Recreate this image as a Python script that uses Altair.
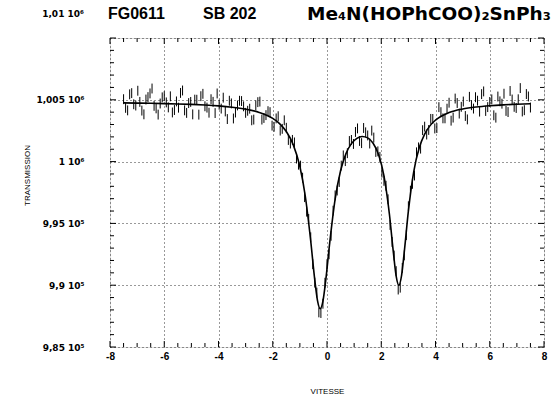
import altair as alt
import pandas as pd

# ---- data (channels split into two interleaved halves) ----
velocity_even = [-7.5, -7.35, -7.2, -7.05, -6.9, -6.75, -6.6, -6.45, -6.3, -6.15,
                 -6.0, -5.85, -5.7, -5.55, -5.4, -5.25, -5.1, -4.95, -4.8, -4.65,
                 -4.5, -4.35, -4.2, -4.05, -3.9, -3.75, -3.6, -3.45, -3.3, -3.15,
                 -3.0, -2.85, -2.7, -2.55, -2.4, -2.25, -2.1, -1.95, -1.8, -1.65,
                 -1.5, -1.35, -1.2, -1.05, -0.9, -0.75, -0.6, -0.45, -0.3, -0.15,
                 0.0, 0.15, 0.3, 0.45, 0.6, 0.75, 0.9, 1.05, 1.2, 1.35,
                 1.5, 1.65, 1.8, 1.95, 2.1, 2.25, 2.4, 2.55, 2.7, 2.85,
                 3.0, 3.15, 3.3, 3.45, 3.6, 3.75, 3.9, 4.05, 4.2, 4.35,
                 4.5, 4.65, 4.8, 4.95, 5.1, 5.25, 5.4, 5.55, 5.7, 5.85,
                 6.0, 6.15, 6.3, 6.45, 6.6, 6.75, 6.9, 7.05, 7.2, 7.35,
                 7.5]
transmission_even = [1005050, 1004145, 1005540, 1004535, 1004830, 1003824, 1005219, 1005913, 1004306, 1004700,
                     1005293, 1004385, 1003976, 1004867, 1005557, 1004146, 1004734, 1003821, 1005006, 1005292,
                     1004476, 1003957, 1004836, 1005514, 1004288, 1004058, 1004925, 1003490, 1004545, 1004898,
                     1003945, 1004280, 1003400, 1004810, 1003400, 1003760, 1004000, 1002820, 1003670, 1002650,
                     1002735, 1001460, 1001550, 999750, 998700, 995950, 993874, 990210, 987800, 988500,
                     991700, 994000, 997262, 998350, 1000500, 1000680, 1001752, 1002400, 1001670, 1002720,
                     1002117, 1002510, 1000780, 1000380, 998443, 996950, 993500, 991138, 989800, 992415,
                     996387, 998200, 1000750, 1001050, 1002827, 1002560, 1003450, 1002710, 1004000, 1003500,
                     1004765, 1003560, 1004740, 1004430, 1003690, 1005240, 1004290, 1004930, 1005460, 1004095,
                     1004823, 1003745, 1005265, 1004685, 1004100, 1005715, 1004430, 1005043, 1004055, 1005465,
                     1004375]
velocity_odd = [-7.425, -7.275, -7.125, -6.975, -6.825, -6.675, -6.525, -6.375, -6.225, -6.075,
                -5.925, -5.775, -5.625, -5.475, -5.325, -5.175, -5.025, -4.875, -4.725, -4.575,
                -4.425, -4.275, -4.125, -3.975, -3.825, -3.675, -3.525, -3.375, -3.225, -3.075,
                -2.925, -2.775, -2.625, -2.475, -2.325, -2.175, -2.025, -1.875, -1.725, -1.575,
                -1.425, -1.275, -1.125, -0.975, -0.825, -0.675, -0.525, -0.375, -0.225, -0.075,
                0.075, 0.225, 0.375, 0.525, 0.675, 0.825, 0.975, 1.125, 1.275, 1.425,
                1.575, 1.725, 1.875, 2.025, 2.175, 2.325, 2.475, 2.625, 2.775, 2.925,
                3.075, 3.225, 3.375, 3.525, 3.675, 3.825, 3.975, 4.125, 4.275, 4.425,
                4.575, 4.725, 4.875, 5.025, 5.175, 5.325, 5.475, 5.625, 5.775, 5.925,
                6.075, 6.225, 6.375, 6.525, 6.675, 6.825, 6.975, 7.125, 7.275, 7.425]
transmission_odd = [1004348, 1005443, 1004638, 1005733, 1004127, 1005022, 1005516, 1004510, 1003803, 1005197,
                    1004789, 1005281, 1004172, 1004362, 1005752, 1003940, 1004828, 1005014, 1003799, 1005484,
                    1004367, 1005047, 1003925, 1004601, 1005173, 1003442, 1004708, 1003968, 1004922, 1004472,
                    1004113, 1003340, 1004555, 1004855, 1003530, 1004080, 1002910, 1003495, 1002510, 1003340,
                    1001750, 1001755, 1000250, 999675, 997125, 995360, 991700, 989400, 987750, 990200,
                    992500, 996030, 997660, 999675, 1000040, 1001666, 1001426, 1002685, 1001495, 1002368,
                    1001463, 1001945, 1000830, 999110, 998046, 994875, 992400, 989650, 991400, 994050,
                    997640, 998875, 1001150, 1002540, 1002190, 1003455, 1002680, 1004405, 1003500, 1004282,
                    1003312, 1005100, 1003885, 1004860, 1003415, 1004565, 1005210, 1004045, 1005678, 1004409,
                    1005034, 1003555, 1004875, 1005493, 1004008, 1005023, 1004337, 1005949, 1004160, 1005270]
error_half = 400

fit_velocity = [-7.5, -7.0, -6.5, -6.0, -5.5, -5.0, -4.5, -4.0, -3.5, -3.0, -2.5, -2.0,
                -1.75, -1.5, -1.25, -1.0, -0.8, -0.6, -0.45, -0.35, -0.25, -0.15, -0.05,
                0.1, 0.3, 0.5, 0.7, 0.9, 1.1, 1.3, 1.5, 1.7, 1.9, 2.1, 2.3,
                2.45, 2.55, 2.65, 2.75, 2.85, 3.0, 3.2, 3.4, 3.6, 3.8, 4.0,
                4.5, 5.0, 5.5, 6.0, 6.5, 7.0, 7.5]
fit_transmission = [1004750, 1004733, 1004715, 1004693, 1004664, 1004626, 1004576, 1004506, 1004403, 1004245, 1003981, 1003492,
                    1003075, 1002435, 1001395, 999601, 997197, 993574, 990410, 988757, 988105, 988717, 990329,
                    993430, 996962, 999260, 1000645, 1001452, 1001883, 1002031, 1001917, 1001485, 1000574, 998843, 995758,
                    992587, 990738, 990000, 990801, 992715, 995987, 999217, 1001115, 1002227, 1002911, 1003356,
                    1003965, 1004257, 1004421, 1004523, 1004591, 1004639, 1004675]

x_major = [-8, -6, -4, -2, 0, 2, 4, 6, 8]
x_minor = [-7.5, -7, -6.5, -5.5, -5, -4.5, -3.5, -3, -2.5, -1.5, -1, -0.5,
           0.5, 1, 1.5, 2.5, 3, 3.5, 4.5, 5, 5.5, 6.5, 7, 7.5]
y_major = [985000, 990000, 995000, 1000000, 1005000, 1010000]
y_labels = ["9,85 10⁵", "9,9 10⁵", "9,95 10⁵", "1 10⁶", "1,005 10⁶", "1,01 10⁶"]
y_minor = [986000, 987000, 988000, 989000, 991000, 992000, 993000, 994000,
           996000, 997000, 998000, 999000, 1001000, 1002000, 1003000, 1004000,
           1006000, 1007000, 1008000, 1009000]
title_parts = ["FG0611", "SB 202", "Me₄N(HOPhCOO)₂SnPh₃"]
x_title = "VITESSE"
y_title = "TRANSMISSION"

# ---- chart ----
W, H = 434, 309
FONT = "Liberation Sans"
FONT2 = "DejaVu Sans"

data_df = pd.DataFrame({"v": velocity_even + velocity_odd,
                        "t": transmission_even + transmission_odd})
fit_df = pd.DataFrame({"v": fit_velocity, "t": fit_transmission})

xscale = alt.Scale(domain=[-8, 8], nice=False, zero=False)
yscale = alt.Scale(domain=[985000, 1010000], nice=False, zero=False)

label_expr = ""
for val, lab in zip(y_major[:-1], y_labels[:-1]):
    label_expr += f"datum.value == {val} ? '{lab}' : "
label_expr += "''"

x_axis = alt.Axis(values=x_major, title=x_title, grid=True, ticks=False, domain=False,
                  labelExpr="'' + datum.value",
                  labelPadding=4, labelFontSize=10, labelFontWeight="bold", labelFont=FONT,
                  labelColor="black", labelFlush=False,
                  gridColor="#333", gridDash=[1, 3], gridWidth=1,
                  titleFont=FONT, titleFontSize=8, titleFontWeight="normal", titleColor="black",
                  titleY=40, titleBaseline="top")
y_axis = alt.Axis(values=y_major, title=y_title, grid=True, ticks=False, domain=False,
                  labelExpr=label_expr, labelPadding=26, labelFontSize=9, labelFontWeight="bold",
                  labelFont=FONT2, labelColor="black", labelFlush=False,
                  gridColor="#333", gridDash=[1, 3], gridWidth=1,
                  titleFont=FONT, titleFontSize=8, titleFontWeight="normal", titleColor="black",
                  titleX=-83, titleY=137, titleAngle=270, titleAlign="center", titleBaseline="middle")

bars = alt.Chart(data_df).transform_calculate(
    lo=f"datum.t - {error_half}", hi=f"datum.t + {error_half}"
).mark_rule(color="black", strokeWidth=1).encode(
    x=alt.X("v:Q", scale=xscale, axis=x_axis),
    y=alt.Y("lo:Q", scale=yscale, axis=y_axis),
    y2="hi:Q",
)

fit = alt.Chart(fit_df).mark_line(color="black", strokeWidth=1.6, interpolate="monotone").encode(
    x=alt.X("v:Q", scale=xscale),
    y=alt.Y("t:Q", scale=yscale),
)


def xticks(vals, length):
    df = pd.DataFrame({"v": vals})
    base = alt.Chart(df).mark_rule(color="black", strokeWidth=1)
    bottom = base.encode(x=alt.X("v:Q", scale=xscale), y=alt.value(H), y2=alt.value(H - length))
    top = base.encode(x=alt.X("v:Q", scale=xscale), y=alt.value(0), y2=alt.value(length))
    return [bottom, top]


def yticks(vals, length):
    df = pd.DataFrame({"t": vals})
    base = alt.Chart(df).mark_rule(color="black", strokeWidth=1)
    left = base.encode(y=alt.Y("t:Q", scale=yscale), x=alt.value(0), x2=alt.value(length))
    right = base.encode(y=alt.Y("t:Q", scale=yscale), x=alt.value(W), x2=alt.value(W - length))
    return [left, right]


one = alt.Data(values=[{"k": 0}])


def text(txt, x, y, size, align="left", font=FONT):
    return alt.Chart(one).mark_text(align=align, baseline="middle", fontSize=size,
                                    fontWeight="bold", font=font, color="black").encode(
        text=alt.value(txt), x=alt.value(x), y=alt.value(y))


layers = [bars, fit]
layers += xticks(x_major, 6) + xticks(x_minor, 4)
layers += yticks(y_major, 6) + yticks(y_minor, 4)
layers += [
    text(title_parts[0], -2, -24, 16),
    text(title_parts[1], 93, -24, 16),
    text(title_parts[2], 197, -24, 18.5, font=FONT2),
    text(y_labels[-1], -26, -24, 9, align="right", font=FONT2),
]

chart = alt.layer(*layers).properties(
    width=W, height=H,
    padding={"left": 110, "top": 38, "right": 12, "bottom": 51},
    autosize=alt.AutoSizeParams(type="none"),
).configure_view(stroke="black", strokeWidth=1.2).configure(background="white")

chart.save("out.html", embed_options={"renderer": "svg", "actions": False})
